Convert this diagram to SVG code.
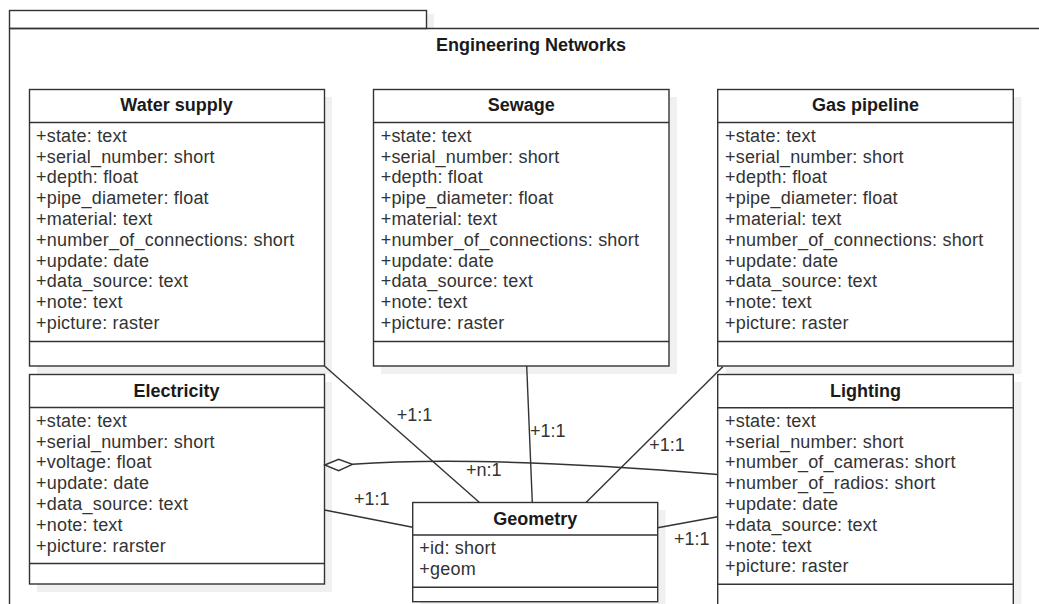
<svg xmlns="http://www.w3.org/2000/svg" width="1039" height="604" viewBox="0 0 1039 604">
  <style>
    .frame { fill: #ffffff; stroke: #333333; stroke-width: 1.4; }
    .box { fill: #ffffff; stroke: #333333; stroke-width: 1.4; }
    .shadow { fill: #f0f0f0; stroke: none; }
    .sep { stroke: #333333; stroke-width: 1.4; fill: none; }
    .title { font-family: "Liberation Sans", Arial, sans-serif; font-size: 18px; font-weight: bold; fill: #1a1a1a; text-anchor: middle; }
    .attr { font-family: "Liberation Sans", Arial, sans-serif; font-size: 18px; fill: #333333; letter-spacing: 0.2px; }
    .edge { stroke: #333333; stroke-width: 1.4; fill: none; }
    .lbl { font-family: "Liberation Sans", Arial, sans-serif; font-size: 18px; fill: #333333; }
  </style>
  <rect width="1039" height="604" fill="#ffffff"/>

  <!-- package frame -->
  <g id="package">
    <rect x="426" y="14" width="8" height="14" class="shadow"/>
    <rect x="9.5" y="10.5" width="417" height="18" class="frame"/>
    <path d="M9.5 28.5 H1045 M9.5 28.5 V610" class="sep"/>
    <text x="531" y="51" class="title">Engineering Networks</text>
  </g>

  <!-- Water supply -->
  <g id="water-supply">
    <rect x="37" y="97" width="295" height="277" class="shadow"/>
    <rect x="29.5" y="89.5" width="295" height="276.5" class="box"/>
    <path d="M29.5 122.5 H324.5 M29.5 341.5 H324.5" class="sep"/>
    <text x="176.5" y="111" class="title">Water supply</text>
    <text class="attr">
      <tspan x="36" y="141.7">+state: text</tspan>
      <tspan x="36" y="162.5">+serial_number: short</tspan>
      <tspan x="36" y="183.3">+depth: float</tspan>
      <tspan x="36" y="204.1">+pipe_diameter: float</tspan>
      <tspan x="36" y="224.9">+material: text</tspan>
      <tspan x="36" y="245.7">+number_of_connections: short</tspan>
      <tspan x="36" y="266.5">+update: date</tspan>
      <tspan x="36" y="287.3">+data_source: text</tspan>
      <tspan x="36" y="308.1">+note: text</tspan>
      <tspan x="36" y="328.9">+picture: raster</tspan>
    </text>
  </g>

  <!-- Sewage -->
  <g id="sewage">
    <rect x="381" y="97" width="296" height="277" class="shadow"/>
    <rect x="373.5" y="89.5" width="295.5" height="276.5" class="box"/>
    <path d="M373.5 122.5 H669 M373.5 341.5 H669" class="sep"/>
    <text x="521.2" y="111" class="title">Sewage</text>
    <text class="attr">
      <tspan x="380.7" y="141.7">+state: text</tspan>
      <tspan x="380.7" y="162.5">+serial_number: short</tspan>
      <tspan x="380.7" y="183.3">+depth: float</tspan>
      <tspan x="380.7" y="204.1">+pipe_diameter: float</tspan>
      <tspan x="380.7" y="224.9">+material: text</tspan>
      <tspan x="380.7" y="245.7">+number_of_connections: short</tspan>
      <tspan x="380.7" y="266.5">+update: date</tspan>
      <tspan x="380.7" y="287.3">+data_source: text</tspan>
      <tspan x="380.7" y="308.1">+note: text</tspan>
      <tspan x="380.7" y="328.9">+picture: raster</tspan>
    </text>
  </g>

  <!-- Gas pipeline -->
  <g id="gas-pipeline">
    <rect x="725.5" y="97" width="296" height="277" class="shadow"/>
    <rect x="717.7" y="89.5" width="295.6" height="276.5" class="box"/>
    <path d="M717.7 122.5 H1013.3 M717.7 341.5 H1013.3" class="sep"/>
    <text x="865.5" y="111" class="title">Gas pipeline</text>
    <text class="attr">
      <tspan x="725" y="141.7">+state: text</tspan>
      <tspan x="725" y="162.5">+serial_number: short</tspan>
      <tspan x="725" y="183.3">+depth: float</tspan>
      <tspan x="725" y="204.1">+pipe_diameter: float</tspan>
      <tspan x="725" y="224.9">+material: text</tspan>
      <tspan x="725" y="245.7">+number_of_connections: short</tspan>
      <tspan x="725" y="266.5">+update: date</tspan>
      <tspan x="725" y="287.3">+data_source: text</tspan>
      <tspan x="725" y="308.1">+note: text</tspan>
      <tspan x="725" y="328.9">+picture: raster</tspan>
    </text>
  </g>

  <!-- Electricity -->
  <g id="electricity">
    <rect x="37" y="382" width="295" height="210" class="shadow"/>
    <rect x="29.5" y="374.5" width="295" height="209.5" class="box"/>
    <path d="M29.5 407.5 H324.5 M29.5 563.5 H324.5" class="sep"/>
    <text x="176.5" y="397" class="title">Electricity</text>
    <text class="attr">
      <tspan x="36" y="426.7">+state: text</tspan>
      <tspan x="36" y="447.5">+serial_number: short</tspan>
      <tspan x="36" y="468.3">+voltage: float</tspan>
      <tspan x="36" y="489.1">+update: date</tspan>
      <tspan x="36" y="509.9">+data_source: text</tspan>
      <tspan x="36" y="530.7">+note: text</tspan>
      <tspan x="36" y="551.5">+picture: rarster</tspan>
    </text>
  </g>

  <!-- Lighting -->
  <g id="lighting">
    <rect x="725.5" y="382" width="296" height="240" class="shadow"/>
    <rect x="717.7" y="374.5" width="295.6" height="240" class="box"/>
    <path d="M717.7 407.7 H1013.3 M717.7 584.3 H1013.3" class="sep"/>
    <text x="865.5" y="397" class="title">Lighting</text>
    <text class="attr">
      <tspan x="725" y="426.7">+state: text</tspan>
      <tspan x="725" y="447.5">+serial_number: short</tspan>
      <tspan x="725" y="468.3">+number_of_cameras: short</tspan>
      <tspan x="725" y="489.1">+number_of_radios: short</tspan>
      <tspan x="725" y="509.9">+update: date</tspan>
      <tspan x="725" y="530.7">+data_source: text</tspan>
      <tspan x="725" y="551.5">+note: text</tspan>
      <tspan x="725" y="572.3">+picture: raster</tspan>
    </text>
  </g>

  <!-- Geometry -->
  <g id="geometry">
    <rect x="420.5" y="510" width="245" height="100" class="shadow"/>
    <rect x="412.7" y="502.5" width="245" height="99.2" class="box"/>
    <path d="M412.7 535 H657.7 M412.7 587.3 H657.7" class="sep"/>
    <text x="535.2" y="525" class="title">Geometry</text>
    <text class="attr">
      <tspan x="419.3" y="554.3">+id: short</tspan>
      <tspan x="419.3" y="575">+geom</tspan>
    </text>
  </g>

  <!-- associations -->
  <g id="connectors">
    <line x1="324.5" y1="366" x2="479.5" y2="502.5" class="edge"/>
    <line x1="526.7" y1="366" x2="532.3" y2="502.5" class="edge"/>
    <line x1="723" y1="366.5" x2="586" y2="502.5" class="edge"/>
    <line x1="324.5" y1="510" x2="412.7" y2="527.3" class="edge"/>
    <line x1="717.7" y1="516.7" x2="657.7" y2="527.7" class="edge"/>
    <path d="M352.5 464.3 Q480 455 717.7 474.5" class="edge"/>
    <path d="M324.8 465 L338.6 459.3 L352.5 464.3 L338.6 470.7 Z" fill="#ffffff" stroke="#333333" stroke-width="1.4"/>
    <text x="396.7" y="421" class="lbl">+1:1</text>
    <text x="530" y="437" class="lbl">+1:1</text>
    <text x="649.3" y="451" class="lbl">+1:1</text>
    <text x="466" y="476" class="lbl">+n:1</text>
    <text x="354" y="505" class="lbl">+1:1</text>
    <text x="674" y="545" class="lbl">+1:1</text>
  </g>
</svg>
